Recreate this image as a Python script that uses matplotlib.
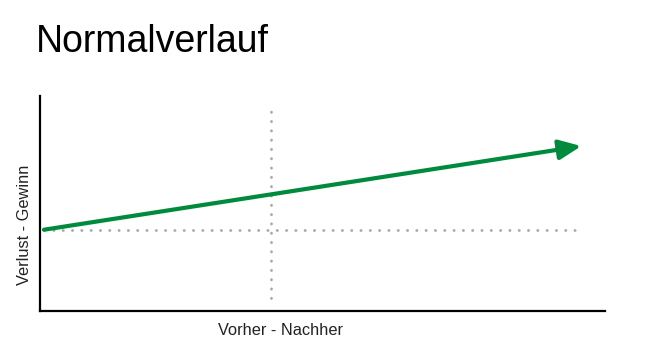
import matplotlib.pyplot as plt

# values on a 0..10 scale for both axes
trend_x = [0.07, 9.58]
trend_y = [3.78, 7.67]
baseline_y = 3.75
baseline_x = [0.07, 9.6]
split_x = 4.09
split_y = [0.6, 9.58]

green = "#008a3e"
dots = "#a8a8a8"

fig = plt.figure(figsize=(6.54, 3.57), dpi=100)
ax = fig.add_axes([40 / 654, 1 - 311 / 357, 565 / 654, 215 / 357])
ax.set_xlim(0, 10)
ax.set_ylim(0, 10)

dot_style = dict(color=dots, lw=2, linestyle=(0, (0.1, 3.25)), dash_capstyle="round")
ax.plot(baseline_x, [baseline_y, baseline_y], **dot_style)
ax.plot([split_x, split_x], split_y, **dot_style)

ax.annotate("", xy=(trend_x[1], trend_y[1]), xytext=(trend_x[0], trend_y[0]),
            arrowprops=dict(arrowstyle="-|>,head_length=0.9,head_width=0.4",
                            mutation_scale=15, lw=3, color=green,
                            shrinkA=0, shrinkB=0))

for side in ["top", "right"]:
    ax.spines[side].set_visible(False)
for side in ["left", "bottom"]:
    ax.spines[side].set_linewidth(1.6)
    ax.spines[side].set_color("black")
ax.set_xticks([])
ax.set_yticks([])

font = "Liberation Sans"
ax.set_xlabel("Vorher - Nachher", fontsize=11.8, family=font, color="#222222", va="center")
ax.xaxis.set_label_coords(0.425, -0.092)
ax.set_ylabel("Verlust - Gewinn", fontsize=11.8, family=font, color="#222222", va="center")
ax.yaxis.set_label_coords(-0.027, 0.40)
fig.text(36 / 654, 1 - 52 / 357, "Normalverlauf", fontsize=27, family=font, color="black")

fig.savefig("out.png", dpi=100)
